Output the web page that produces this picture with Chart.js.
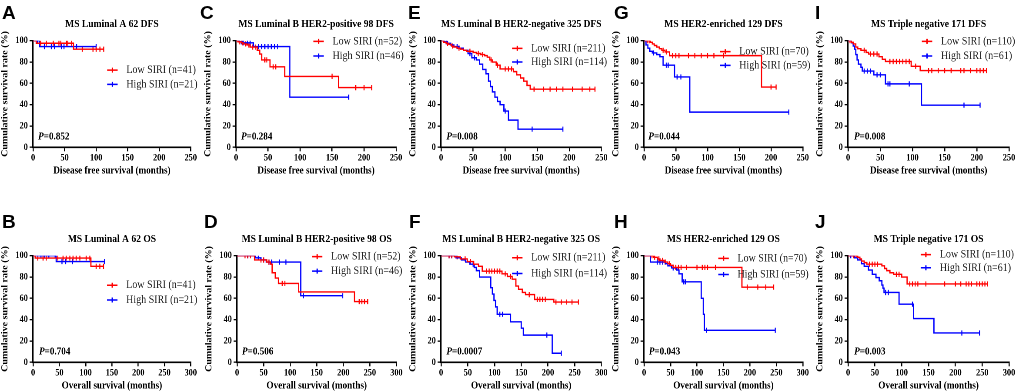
<!DOCTYPE html>
<html>
<head>
<meta charset="utf-8">
<script src="https://cdn.jsdelivr.net/npm/chart.js@4.4.1/dist/chart.umd.min.js"></script>
<style>
  body { margin: 0; background: #fff; width: 1017px; height: 392px; overflow: hidden; position: relative; }
  .panel { position: absolute; transform-origin: 0 0; }
  .panel canvas { display: block; }
  .letter { position: absolute; font: bold 19px "Liberation Sans", Arial, sans-serif; line-height: 1; color: #000; }
</style>
</head>
<body>
<script>
// panels in order: A C E G I (DFS, top row), B D F H J (OS, bottom row)
const panelLetters = ['A', 'C', 'E', 'G', 'I', 'B', 'D', 'F', 'H', 'J'];
const panelTitles = [
    'MS Luminal A 62 DFS', 'MS Luminal B HER2-positive 98 DFS', 'MS Luminal B HER2-negative 325 DFS',
    'MS HER2-enriched 129 DFS', 'MS Triple negative 171 DFS',
    'MS Luminal A 62 OS', 'MS Luminal B HER2-positive 98 OS', 'MS Luminal B HER2-negative 325 OS',
    'MS HER2-enriched 129 OS', 'MS Triple negative 171 OS'
];
const xTitles = ['Disease free survival (months)', 'Overall survival (months)'];
const xMax = [250, 250, 250, 250, 250, 300, 300, 300, 300, 300];
const yTicks = [0, 20, 40, 60, 80, 100];
const pValues = ['0.852', '0.284', '0.008', '0.044', '0.008', '0.704', '0.506', '0.0007', '0.043', '0.003'];
const lowN = [41, 52, 211, 70, 110, 41, 52, 211, 70, 110];
const highN = [21, 46, 114, 59, 61, 21, 46, 114, 59, 61];

// Low SIRI: event times (months) and survival (%) after each step
const lowTime = [
    [0, 5, 64, 112],
    [0, 3, 8, 12, 17, 22, 33, 37, 40, 53, 76, 160, 212],
    [0, 4, 8, 12, 16, 20, 25, 30, 35, 40, 50, 55, 62, 68, 72, 76, 80, 86, 92, 113, 118, 124, 129, 134, 139, 240],
    [0, 10, 13, 16, 20, 24, 28, 33, 40, 185, 208],
    [0, 5, 8, 12, 15, 20, 28, 32, 48, 53, 58, 98, 112, 215],
    [0, 4, 110, 134],
    [0, 33, 56, 63, 66, 72, 78, 116, 221, 246],
    [0, 25, 36, 49, 61, 70, 77, 114, 124, 133, 140, 145, 152, 158, 175, 211, 257],
    [0, 18, 25, 30, 38, 45, 50, 55, 185, 245],
    [0, 18, 22, 25, 30, 35, 63, 68, 72, 78, 85, 100, 110, 260]
];
const lowSurv = [
    [100, 97.6, 92, 92],
    [100, 99, 98, 97, 96, 94, 91, 87.5, 82, 75.5, 66.5, 56, 56],
    [100, 98.5, 97.5, 96.5, 95, 94, 93, 92, 91, 90, 89, 88, 87, 86, 84.5, 82, 80, 77, 73.5, 71, 68, 65, 62, 58, 54.5, 54.5],
    [100, 98.5, 97, 95.5, 94, 92.5, 91, 89.5, 86, 56.5, 56.5],
    [100, 98.5, 97, 94, 92.5, 91, 89, 87.5, 85, 82.5, 80.5, 76, 72, 72],
    [100, 97.8, 90, 90],
    [100, 96, 94, 92, 84, 79, 74, 66, 57, 57],
    [100, 99, 97, 94.5, 92, 90, 85.5, 83, 80.5, 78, 71.5, 68.5, 65.5, 63.5, 59, 56.5, 56.5],
    [100, 98.5, 97, 95.5, 94, 92.5, 91, 89, 70.5, 70.5],
    [100, 98.5, 97, 95, 93.5, 92, 90.5, 88, 86, 84, 82.5, 80, 73.5, 73.5]
];
const lowCensor = [
    [12, 21, 32, 41, 44, 53, 55, 61, 78, 95, 100, 106, 112],
    [5, 10, 15, 20, 26, 30, 45, 48, 58, 62, 150, 187, 200, 212],
    [10, 18, 28, 45, 58, 65, 78, 88, 100, 105, 110, 145, 160, 170, 180, 190, 205, 220, 232, 240],
    [5, 8, 30, 35, 45, 50, 55, 70, 80, 90, 100, 110, 125, 200, 208],
    [3, 25, 35, 40, 45, 65, 70, 75, 80, 85, 90, 95, 105, 125, 130, 140, 150, 160, 175, 180, 190, 200, 205, 210, 215],
    [9, 19, 25, 47, 57, 63, 70, 76, 82, 89, 101, 108, 120, 127, 134],
    [15, 20, 25, 45, 50, 60, 85, 90, 230, 235, 240, 246],
    [15, 20, 30, 45, 55, 85, 90, 95, 100, 105, 110, 120, 130, 165, 180, 185, 190, 195, 215, 225, 235, 245, 257],
    [15, 20, 28, 35, 40, 48, 60, 65, 70, 80, 100, 110, 115, 120, 135, 195, 215, 230, 245],
    [10, 15, 40, 45, 50, 55, 90, 95, 115, 120, 125, 130, 145, 180, 200, 210, 220, 225, 230, 240, 245, 250, 255, 260]
];

// High SIRI
const highTime = [
    [0, 10, 100],
    [0, 5, 10, 27, 84, 176],
    [0, 5, 10, 15, 20, 28, 35, 42, 48, 55, 60, 65, 70, 74, 77, 80, 84, 88, 92, 98, 105, 120, 190],
    [0, 3, 6, 9, 13, 20, 25, 30, 48, 72, 228],
    [0, 5, 8, 10, 12, 14, 16, 20, 22, 40, 58, 114, 205],
    [0, 44, 136],
    [0, 35, 45, 55, 120, 199],
    [0, 28, 38, 46, 54, 62, 66, 72, 93, 96, 99, 102, 105, 130, 150, 154, 208, 225],
    [0, 12, 40, 45, 52, 62, 66, 72, 108, 112, 114, 248],
    [0, 12, 18, 25, 30, 38, 45, 52, 58, 63, 65, 67, 95, 122, 160, 245]
];
const highSurv = [
    [100, 94.5, 94.5],
    [100, 99, 98, 94.5, 47, 47],
    [100, 99, 97.5, 96, 94.5, 93, 91, 88, 84, 82, 78, 73, 69, 62, 57, 52, 47, 43, 40, 34, 25.5, 17, 17],
    [100, 96, 93, 90, 88.5, 87, 85, 77, 66, 33, 33],
    [100, 98, 95, 92, 87, 82, 78, 75, 71.5, 68, 59.5, 39.5, 39.5],
    [100, 94.5, 94.5],
    [100, 98, 96, 94, 62.5, 62.5],
    [100, 98, 96, 94, 92, 89, 86, 80, 70, 64, 58, 52, 45, 38, 32, 25.5, 8.5, 8.5],
    [100, 94, 92.5, 90.5, 88.5, 86.5, 83, 75.5, 60, 45, 30, 30],
    [100, 98, 96, 92.5, 90, 86.5, 82.5, 79.5, 76.5, 72.5, 69.5, 65.5, 54.5, 41, 27.5, 27.5]
];
const highCensor = [
    [7, 18, 29, 34, 45, 49, 69, 100],
    [8, 12, 18, 22, 35, 40, 45, 50, 55, 60, 65, 176],
    [8, 25, 45, 52, 100, 142, 190],
    [15, 35, 38, 52, 58, 228],
    [25, 30, 35, 45, 50, 62, 65, 95, 180, 205],
    [15, 22, 30, 42, 55, 62, 75, 136],
    [20, 40, 50, 60, 65, 80, 92, 125, 199],
    [15, 20, 60, 110, 115, 198, 225],
    [25, 30, 35, 55, 75, 78, 118, 248],
    [5, 70, 75, 120, 212, 245]
];

// ---- layout (page px) ----
const SX = 0.87;          // the figure is a bit narrower than the fonts
const Y_W = 38;           // y axis box width (canvas px)
const CANVAS_H = 177;
const FONT = '"Liberation Serif", "Times New Roman", serif';
const RED = '#ff0000';
const BLUE = '#0000ff';
// [y axis x, x axis end x, letter x]
const pageBox = [
    [33.3, 191, 2], [236, 396, 200], [440.7, 601, 408], [644.3, 803, 614], [847.7, 1008.7, 815],
    [33.3, 191, 2], [236.7, 396, 204], [440.7, 601, 409], [644.3, 803, 614], [847.7, 1008.7, 815]
];
// legend x, low y, high y, p-value x (fractions of the plot area)
const legendPos = [
    [0.47, 0.276, 0.41, 0.032], [0.483, 0.006, 0.144, 0.031], [0.443, 0.072, 0.2, 0.033],
    [0.479, 0.103, 0.232, 0.027], [0.458, 0.006, 0.144, 0.037],
    [0.469, 0.277, 0.415, 0.038], [0.47, 0.009, 0.145, 0.031], [0.443, 0.019, 0.167, 0.033],
    [0.468, 0.025, 0.176, 0.03], [0.451, -0.01, 0.113, 0.038]
];

function stepPoints(times, surv) {
    return times.map((t, k) => ({ x: t, y: surv[k] }));
}

// censored marks sit on the curve
function censorPoints(censor, times, surv) {
    return censor.map(t => {
        let s = surv[0];
        times.forEach((tt, k) => { if (tt <= t) s = surv[k]; });
        return { x: t, y: s };
    });
}

// legend inside the plot + P value
const kmDecor = {
    id: 'kmDecor',
    afterDraw(chart, args, opts) {
        const { ctx, chartArea: a } = chart;
        ctx.save();
        const x = a.left + opts.lx * a.width;
        [0, 1].forEach(k => {
            const ds = chart.data.datasets[k];
            const y = a.top + opts.ly[k] * a.height;
            ctx.strokeStyle = ds.borderColor;
            ctx.lineWidth = 1.5;
            ctx.beginPath();
            ctx.moveTo(x, y); ctx.lineTo(x + 12, y);
            ctx.moveTo(x + 6, y - 2.5); ctx.lineTo(x + 6, y + 2.5);
            ctx.stroke();
            ctx.fillStyle = '#222';
            ctx.font = `11.5px ${FONT}`;
            ctx.textBaseline = 'middle';
            ctx.textAlign = 'left';
            ctx.fillText(ds.label, x + 22, y);
        });
        const px = a.left + opts.px * a.width;
        const py = a.top + 0.9 * a.height;
        ctx.fillStyle = '#000';
        ctx.textBaseline = 'middle';
        ctx.font = `italic bold 10.5px ${FONT}`;
        ctx.fillText('P', px, py);
        const w = ctx.measureText('P').width;
        ctx.font = `bold 10.5px ${FONT}`;
        ctx.fillText('=' + opts.p, px + w, py);
        ctx.restore();
    }
};

panelLetters.forEach((letter, i) => {
    const [x0, x1, letterX] = pageBox[i];
    const bottomRow = i >= 5;
    const areaW = (x1 - x0) / SX;
    const cw = Math.ceil(Y_W + areaW + 12);

    const wrap = document.createElement('div');
    wrap.className = 'panel';
    wrap.style.left = (x0 - SX * Y_W) + 'px';
    wrap.style.top = (bottomRow ? 215.3 : 0) + 'px';
    wrap.style.transform = `scaleX(${SX})`;
    const cv = document.createElement('canvas');
    cv.width = cw;
    cv.height = CANVAS_H;
    wrap.appendChild(cv);
    document.body.appendChild(wrap);

    const lab = document.createElement('div');
    lab.className = 'letter';
    lab.textContent = letter;
    lab.style.left = letterX + 'px';
    lab.style.top = (bottomRow ? 211.5 : 2.5) + 'px';
    document.body.appendChild(lab);

    const tickFont = { family: FONT, size: 9.5, weight: 'bold' };
    const lp = legendPos[i];

    new Chart(cv, {
        type: 'line',
        data: {
            datasets: [
                { label: `Low SIRI (n=${lowN[i]})`, data: stepPoints(lowTime[i], lowSurv[i]),
                  borderColor: RED, borderWidth: 1.4, stepped: true, pointRadius: 0, fill: false },
                { label: `High SIRI (n=${highN[i]})`, data: stepPoints(highTime[i], highSurv[i]),
                  borderColor: BLUE, borderWidth: 1.4, stepped: true, pointRadius: 0, fill: false },
                { label: 'low censored', type: 'scatter', data: censorPoints(lowCensor[i], lowTime[i], lowSurv[i]),
                  borderColor: RED, backgroundColor: RED, pointStyle: 'line', rotation: 90, pointRadius: 2.6, borderWidth: 1.2, showLine: false },
                { label: 'high censored', type: 'scatter', data: censorPoints(highCensor[i], highTime[i], highSurv[i]),
                  borderColor: BLUE, backgroundColor: BLUE, pointStyle: 'line', rotation: 90, pointRadius: 2.6, borderWidth: 1.2, showLine: false }
            ]
        },
        options: {
            responsive: false,
            animation: false,
            devicePixelRatio: 2,
            layout: { padding: { left: 0, right: cw - Y_W - areaW, top: 0, bottom: 0 } },
            plugins: {
                legend: { display: false },
                tooltip: { enabled: false },
                title: {
                    display: true, text: panelTitles[i], fullSize: false, color: '#000',
                    font: { family: FONT, size: 11, weight: 'bold' },
                    padding: { top: 17.4, bottom: 10.1 }
                },
                kmDecor: { lx: lp[0], ly: [lp[1], lp[2]], px: lp[3], p: pValues[i] }
            },
            scales: {
                x: {
                    type: 'linear', min: 0, max: xMax[i],
                    ticks: { stepSize: 50, maxRotation: 0, color: '#000', font: tickFont, padding: 1 },
                    grid: { drawOnChartArea: false, drawTicks: true, tickLength: 4, color: '#000', lineWidth: 1.3 },
                    border: { color: '#000', width: 1.6 },
                    title: { display: true, text: xTitles[bottomRow ? 1 : 0], color: '#000',
                             font: { family: FONT, size: 10.5, weight: 'bold' }, padding: 0 },
                    afterFit: s => { s.height = CANVAS_H - 147.3; }
                },
                y: {
                    min: 0, max: 100,
                    afterBuildTicks: s => { s.ticks = yTicks.map(v => ({ value: v })); },
                    ticks: { color: '#000', font: tickFont, padding: 2 },
                    grid: { drawOnChartArea: false, drawTicks: true, tickLength: 4, color: '#000', lineWidth: 1.3 },
                    border: { color: '#000', width: 1.6 },
                    title: { display: true, text: 'Cumulative survival rate (%)', color: '#000',
                             font: { family: FONT, size: 10, weight: 'bold' }, padding: 0 },
                    afterFit: s => { s.width = Y_W; }
                }
            }
        },
        plugins: [kmDecor]
    });
});
</script>
</body>
</html>
